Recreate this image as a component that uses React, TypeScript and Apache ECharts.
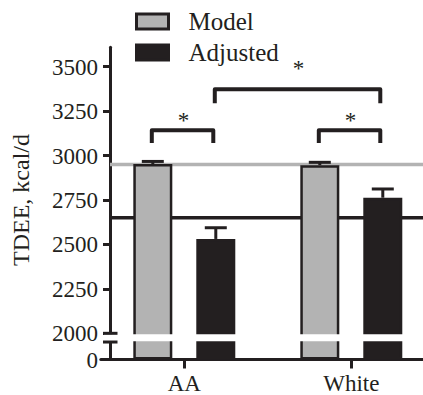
import React, { useEffect, useRef } from 'react';
import * as echarts from 'echarts';

// ---- data ----
const categories = ['AA', 'White'];
const seriesNames = ['Model', 'Adjusted'];
const modelValues = [2952, 2946];
const modelErrors = [15, 16];
const adjustedValues = [2531, 2763];
const adjustedErrors = [63, 49];
const upperTicks = [2000, 2250, 2500, 2750, 3000, 3250, 3500];
const lowerTicks = [0];
const refLineValues = [2950, 2650]; // gray = model mean, black = adjusted mean
// [fromCategory, fromSeries, toCategory, toSeries, topValue, legValue, starValue]
const brackets = [
  [0, 0, 0, 1, 3142, 3071, 3214],
  [1, 0, 1, 1, 3142, 3071, 3214],
  [0, 1, 1, 1, 3373, 3294, 3510],
];
const yTitle = 'TDEE, kcal/d';

// ---- style ----
const DARK = '#231f20';
const GRAY = '#b3b3b3';
const FONT = 'Liberation Serif';
const LABEL_SIZE = 23;
const BAR_WIDTH = 39;
const BAR_GAP = 0.615;
const BAR_OFFSET = (BAR_WIDTH * (1 + BAR_GAP)) / 2;
const AXIS_OFFSET = -9.2;
const GRID_LEFT = 100.8;
const GRID_WIDTH = 334;
const UP_TOP = 47.15;
const UP_HEIGHT = 291.5;
const LOW_TOP = 337;
const LOW_HEIGHT = 22.5;
const AXIS_X = GRID_LEFT - AXIS_OFFSET;

export default function App() {
  const ref = useRef<HTMLDivElement>(null);
  useEffect(() => {
    if (!ref.current) return;
    const chart = echarts.init(ref.current, null, { renderer: 'svg' });

    const errData: number[][] = [];
    categories.forEach((_, c) => {
      errData.push([c, modelValues[c], modelErrors[c], 0]);
      errData.push([c, adjustedValues[c], adjustedErrors[c], 1]);
    });

    const barStyle = (i: number) => ({
      color: i === 0 ? GRAY : DARK,
      borderColor: DARK,
      borderWidth: 2.5,
    });

    const barSeries = (gridIdx: number) =>
      [modelValues, adjustedValues].map((vals, i) => ({
        name: seriesNames[i],
        type: 'bar',
        xAxisIndex: gridIdx,
        yAxisIndex: gridIdx,
        data: vals,
        barWidth: BAR_WIDTH,
        barGap: `${BAR_GAP * 100}%`,
        itemStyle: barStyle(i),
        clip: true,
        z: 2,
        silent: true,
      }));

    const axisCommon = {
      axisLine: { show: true, lineStyle: { color: DARK, width: 3 } },
      splitLine: { show: false },
      axisLabel: { show: false },
    };

    const labelStyle = (text: string, x: number, y: number, align: string) => ({
      text,
      x,
      y,
      align,
      verticalAlign: 'middle',
      fontSize: LABEL_SIZE,
      lineHeight: 16,
      fontFamily: FONT,
      fill: DARK,
    });

    const yLabelSeries = (gridIdx: number, ticks: number[]) => ({
      type: 'custom',
      xAxisIndex: gridIdx,
      yAxisIndex: gridIdx,
      z: 5,
      silent: true,
      clip: false,
      data: ticks.map((v) => [0, v]),
      encode: { x: 0, y: 1 },
      renderItem: (params: any, api: any) => {
        const v = api.value(1);
        const y = api.coord([0, v])[1];
        return { type: 'text', style: labelStyle(String(v), AXIS_X - 12, y + 0.5, 'right') };
      },
    });

    const gridCommon = { left: GRID_LEFT, width: GRID_WIDTH, containLabel: false, outerBoundsMode: 'none' };

    const option: any = {
      animation: false,
      textStyle: { fontFamily: FONT },
      grid: [
        { ...gridCommon, top: UP_TOP, height: UP_HEIGHT },
        { ...gridCommon, top: LOW_TOP, height: LOW_HEIGHT },
      ],
      legend: {
        data: seriesNames,
        orient: 'vertical',
        left: 135,
        top: 9,
        itemWidth: 32,
        itemHeight: 15,
        itemGap: 6,
        icon: 'rect',
        selectedMode: false,
        padding: 0,
        itemStyle: { borderWidth: 3, borderColor: DARK },
        textStyle: { fontSize: 25, fontFamily: FONT, color: DARK, padding: [0, 0, 0, 15] },
      },
      xAxis: [
        { type: 'category', gridIndex: 0, data: categories, show: false },
        {
          type: 'category',
          gridIndex: 1,
          data: categories,
          ...axisCommon,
          axisTick: { show: true, alignWithLabel: true, length: 9, lineStyle: { color: DARK, width: 3 } },
        },
      ],
      yAxis: [
        {
          type: 'value',
          gridIndex: 0,
          min: 1970,
          max: 3610,
          offset: AXIS_OFFSET,
          ...axisCommon,
          axisTick: { show: true, length: 7, customValues: upperTicks, lineStyle: { color: DARK, width: 3 } },
        },
        {
          type: 'value',
          gridIndex: 1,
          min: 0,
          max: 100,
          offset: AXIS_OFFSET,
          ...axisCommon,
          axisTick: { show: true, length: 7, customValues: lowerTicks, lineStyle: { color: DARK, width: 3 } },
        },
      ],
      series: [
        {
          type: 'custom',
          name: 'refLines',
          xAxisIndex: 0,
          yAxisIndex: 0,
          z: 1,
          silent: true,
          data: refLineValues.map((v, i) => [0, v, i]),
          encode: { x: 0, y: 1 },
          renderItem: (params: any, api: any) => {
            const y = api.coord([0, api.value(1)])[1];
            const cs = params.coordSys;
            return {
              type: 'line',
              shape: { x1: cs.x - AXIS_OFFSET, y1: y, x2: cs.x + cs.width, y2: y },
              style: { stroke: api.value(2) === 0 ? GRAY : DARK, lineWidth: 3.5 },
            };
          },
        },
        ...barSeries(0),
        ...barSeries(1),
        {
          type: 'custom',
          name: 'errors',
          xAxisIndex: 0,
          yAxisIndex: 0,
          z: 3,
          silent: true,
          data: errData,
          encode: { x: 0, y: 1 },
          renderItem: (params: any, api: any) => {
            const c = api.value(0), v = api.value(1), e = api.value(2), s = api.value(3);
            const base = api.coord([c, v]);
            const top = api.coord([c, v + e]);
            const x = base[0] + (s === 0 ? -BAR_OFFSET : BAR_OFFSET);
            return {
              type: 'group',
              children: [
                { type: 'line', shape: { x1: x, y1: base[1], x2: x, y2: top[1] }, style: { stroke: DARK, lineWidth: 3 } },
                { type: 'line', shape: { x1: x - 11, y1: top[1], x2: x + 11, y2: top[1] }, style: { stroke: DARK, lineWidth: 3 } },
              ],
            };
          },
        },
        {
          type: 'custom',
          name: 'brackets',
          xAxisIndex: 0,
          yAxisIndex: 0,
          z: 3,
          silent: true,
          data: brackets,
          encode: { x: 0, y: 4 },
          renderItem: (params: any, api: any) => {
            const c1 = api.value(0), s1 = api.value(1), c2 = api.value(2), s2 = api.value(3);
            const topV = api.value(4), legV = api.value(5), starV = api.value(6);
            const x1 = api.coord([c1, topV])[0] + (s1 === 0 ? -BAR_OFFSET : BAR_OFFSET) - 1;
            const x2 = api.coord([c2, topV])[0] + (s2 === 0 ? -BAR_OFFSET : BAR_OFFSET) - 2.5;
            const yTop = api.coord([c1, topV])[1];
            const yLeg = api.coord([c1, legV])[1];
            const yStar = api.coord([c1, starV])[1];
            const fs = 23;
            return {
              type: 'group',
              children: [
                {
                  type: 'polyline',
                  shape: { points: [[x1, yLeg], [x1, yTop], [x2, yTop], [x2, yLeg]] },
                  style: { stroke: DARK, lineWidth: 4, fill: 'none', lineJoin: 'round' },
                },
                {
                  type: 'text',
                  style: {
                    text: '*',
                    x: (x1 + x2) / 2 + 1,
                    y: yStar + 0.15 * fs,
                    align: 'center',
                    verticalAlign: 'middle',
                    fontSize: fs,
                    fontFamily: FONT,
                    fill: DARK,
                  },
                },
              ],
            };
          },
        },
        yLabelSeries(0, upperTicks),
        yLabelSeries(1, lowerTicks),
        {
          type: 'custom',
          name: 'xLabels',
          xAxisIndex: 1,
          yAxisIndex: 1,
          z: 5,
          silent: true,
          clip: false,
          data: categories.map((_, i) => [i, 0]),
          encode: { x: 0, y: 1 },
          renderItem: (params: any, api: any) => {
            const i = api.value(0);
            const p = api.coord([i, 0]);
            return { type: 'text', style: labelStyle(categories[i], p[0], p[1] + 23.5, 'center') };
          },
        },
      ],
    };

    chart.setOption(option);

    // axis break decoration, positioned from the axes
    const yBreakTop = chart.convertToPixel({ yAxisIndex: 0 }, upperTicks[0]) as number;
    chart.setOption({
      graphic: [
        {
          type: 'rect',
          z: 100,
          shape: { x: AXIS_X - 6, y: yBreakTop + 1, width: 423, height: 7 },
          style: { fill: '#ffffff' },
        },
        {
          type: 'line',
          z: 101,
          shape: { x1: AXIS_X - 7, y1: yBreakTop, x2: AXIS_X + 7.5, y2: yBreakTop },
          style: { stroke: DARK, lineWidth: 3 },
        },
        {
          type: 'line',
          z: 101,
          shape: { x1: AXIS_X - 7, y1: yBreakTop + 8.7, x2: AXIS_X + 7.5, y2: yBreakTop + 8.7 },
          style: { stroke: DARK, lineWidth: 3 },
        },
        {
          type: 'text',
          z: 101,
          x: 21,
          y: 200,
          rotation: Math.PI / 2,
          style: {
            text: yTitle,
            fontSize: 24,
            fontFamily: FONT,
            fill: DARK,
            align: 'center',
            verticalAlign: 'middle',
          },
        },
      ],
    });

    return () => chart.dispose();
  }, []);

  return (
    <div
      ref={ref}
      style={{ position: 'fixed', left: 0, top: 0, width: 423, height: 395, background: '#fff' }}
    />
  );
}
